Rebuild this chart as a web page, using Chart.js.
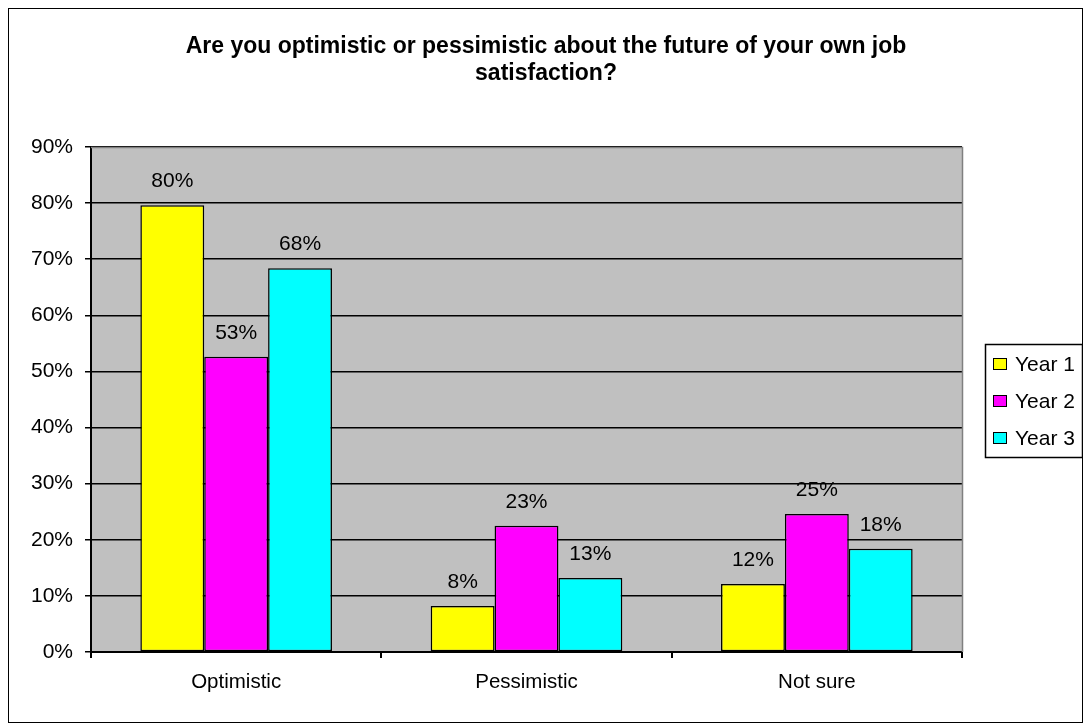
<!DOCTYPE html>
<html>
<head>
<meta charset="utf-8">
<script src="https://cdn.jsdelivr.net/npm/chart.js@4.4.1/dist/chart.umd.min.js"></script>
<style>
  body { margin: 0; background: #fff; }
  canvas { display: block; }
</style>
</head>
<body>
<canvas id="chartKepuasan" width="1083" height="723"></canvas>
<script>
// data (dalam persen)
const categories = ["Optimistic", "Pessimistic", "Not sure"];
const seriesNames = ["Year 1", "Year 2", "Year 3"];
const year1 = [79.6, 8.2, 12.1];
const year2 = [52.6, 22.5, 24.6];
const year3 = [68.4, 13.2, 18.4];
const yMax = 90;
const yStep = 10;
const titleLines = ["Are you optimistic or pessimistic about the future of your own job", "satisfaction?"];

const warna = ["#FFFF00", "#FF00FF", "#00FFFF"];
const fontName = "'Liberation Sans', Arial, sans-serif";

// latar abu-abu untuk area plot + bingkai luar
const latarPlugin = {
    id: "latar",
    beforeDraw(chart) {
        const ctx = chart.ctx;
        const a = chart.chartArea;
        ctx.save();
        ctx.fillStyle = "#FFFFFF";
        ctx.fillRect(0, 0, chart.width, chart.height);
        ctx.strokeStyle = "#000000";
        ctx.lineWidth = 1;
        ctx.strokeRect(8.5, 8.5, chart.width - 9, chart.height - 9);
        ctx.fillStyle = "#C0C0C0";
        ctx.fillRect(a.left, a.top, a.right - a.left, a.bottom - a.top);
        ctx.restore();
    }
};

// label nilai di atas batang, judul, legenda
const hiasanPlugin = {
    id: "hiasan",
    afterDatasetsDraw(chart) {
        const ctx = chart.ctx;
        ctx.save();
        ctx.font = "21px " + fontName;
        ctx.fillStyle = "#000000";
        ctx.textAlign = "center";
        ctx.textBaseline = "middle";
        chart.data.datasets.forEach((ds, i) => {
            const meta = chart.getDatasetMeta(i);
            meta.data.forEach((bar, j) => {
                ctx.fillText(Math.round(ds.data[j]) + "%", bar.x, bar.y - 24);
            });
        });
        ctx.restore();
    },
    afterDraw(chart) {
        const ctx = chart.ctx;
        const a = chart.chartArea;
        ctx.save();
        // bingkai atas & kanan plot (abu tua)
        ctx.strokeStyle = "#808080";
        ctx.lineWidth = 1.5;
        ctx.beginPath();
        ctx.moveTo(a.left, a.top + 0.5);
        ctx.lineTo(a.right + 0.5, a.top + 0.5);
        ctx.lineTo(a.right + 0.5, a.bottom);
        ctx.stroke();

        // judul
        ctx.fillStyle = "#000000";
        ctx.font = "bold 23px " + fontName;
        ctx.textAlign = "center";
        ctx.textBaseline = "middle";
        titleLines.forEach((t, i) => ctx.fillText(t, 546, 47 + i * 27));

        // legenda, kanan kotak menempel bingkai luar
        const lx = 985, ly = 344, lw = 97, lh = 113;
        ctx.fillStyle = "#FFFFFF";
        ctx.fillRect(lx, ly, lw, lh);
        ctx.strokeStyle = "#000000";
        ctx.lineWidth = 1.5;
        ctx.strokeRect(lx + 0.5, ly + 0.5, lw, lh);
        ctx.lineWidth = 1;
        ctx.font = "21px " + fontName;
        ctx.textAlign = "left";
        seriesNames.forEach((nama, i) => {
            const yy = ly + 20 + i * 37;
            ctx.fillStyle = warna[i];
            ctx.fillRect(lx + 8, yy - 6, 14, 12);
            ctx.strokeRect(lx + 8.5, yy - 5.5, 13, 11);
            ctx.fillStyle = "#000000";
            ctx.fillText(nama, lx + 30, yy + 1);
        });
        ctx.restore();
    }
};

const ctx = document.getElementById("chartKepuasan").getContext("2d");
new Chart(ctx, {
    type: "bar",
    data: {
        labels: categories,
        datasets: [year1, year2, year3].map((vals, i) => ({
            label: seriesNames[i],
            data: vals,
            backgroundColor: warna[i],
            borderColor: "#000000",
            borderWidth: 1.5,
            borderSkipped: false,
            barPercentage: 1,
            categoryPercentage: 0.66
        }))
    },
    options: {
        responsive: false,
        animation: false,
        devicePixelRatio: 1,
        layout: { padding: { left: 0, right: 121, top: 147, bottom: 0 } },
        plugins: {
            legend: { display: false },
            title: { display: false },
            tooltip: { enabled: false }
        },
        scales: {
            x: {
                afterFit: s => { s.height = 71; },
                grid: {
                    display: true,
                    drawOnChartArea: false,
                    offset: true,
                    tickLength: 6,
                    lineWidth: 2,
                    color: "#000000"
                },
                border: { display: true, color: "#000000", width: 2 },
                ticks: {
                    color: "#000000",
                    padding: 12,
                    font: { family: fontName, size: 20.5 }
                }
            },
            y: {
                min: 0,
                max: yMax,
                afterFit: s => { s.width = 91; },
                grid: { color: "#000000", tickLength: 6, lineWidth: 1.5 },
                border: { display: true, color: "#000000", width: 2 },
                ticks: {
                    stepSize: yStep,
                    color: "#000000",
                    padding: 12,
                    font: { family: fontName, size: 21 },
                    callback: v => v + "%"
                }
            }
        }
    },
    plugins: [latarPlugin, hiasanPlugin]
});
</script>
</body>
</html>
